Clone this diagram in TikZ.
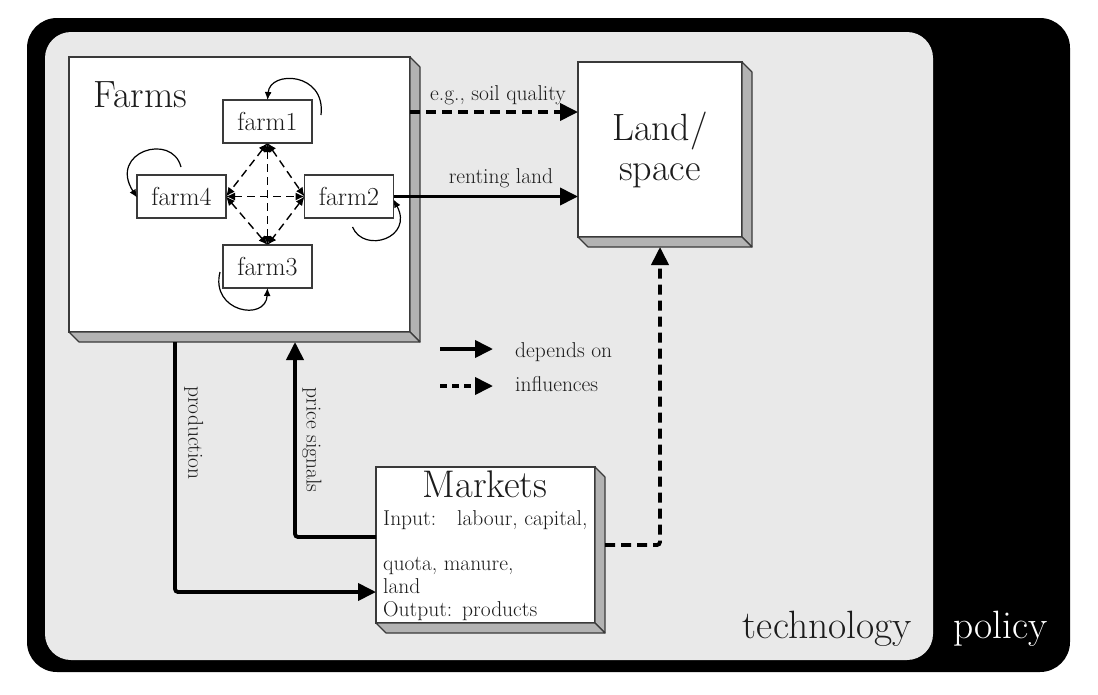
\documentclass[tikz,border=0pt]{standalone}
\usetikzlibrary{arrows.meta,calc}
\definecolor{bggray}{HTML}{E9E9E9}
\definecolor{sidegray}{HTML}{B3B3B3}
\definecolor{edgegray}{HTML}{3A3A3A}
\definecolor{txt}{HTML}{1C1C1C}
\newcommand{\extrude}[1]{%
  \filldraw[side] (#1.north east) -- ++(10,10) -- ($(#1.south east)+(10,10)$) -- (#1.south east) -- cycle;
  \filldraw[side] (#1.south west) -- ++(10,10) -- ($(#1.south east)+(10,10)$) -- (#1.south east) -- cycle;}
\begin{document}
\begin{tikzpicture}[x=1pt,y=-1pt,
  box/.style={draw=edgegray, line width=1.3pt, fill=white, anchor=north west, inner sep=0pt, outer sep=0pt},
  side/.style={draw=edgegray, line width=1.1pt, fill=sidegray, line join=round},
  farmbox/.style={draw=edgegray, line width=1.2pt, fill=white, minimum width=89pt, minimum height=43pt, inner sep=0pt, outer sep=0pt, font=\fontsize{26}{30}\selectfont, text=txt},
  dep/.style={line width=3.8pt, -{Triangle[length=18pt,width=17pt]}},
  infl/.style={line width=3.8pt, dash pattern=on 10pt off 6pt, -{Triangle[length=18pt,width=17pt]}},
  link/.style={line width=1.4pt, dash pattern=on 8pt off 5pt, {Latex[length=9pt,width=8pt]}-{Latex[length=9pt,width=8pt]}},
  selfloop/.style={line width=1.2pt, -{Latex[length=8pt,width=7pt]}},
  lbl/.style={font=\fontsize{21.5}{25}\selectfont, text=txt, inner sep=0pt},
  big/.style={font=\fontsize{38}{40}\selectfont, text=txt, inner sep=0pt},
]
\useasboundingbox (0,0) rectangle (1098,694);
\fill[white] (0,0) rectangle (1098,694);
% policy / technology backgrounds
\fill[black, rounded corners=30pt] (27,18) rectangle (1070,672);
\fill[bggray, rounded corners=26pt] (45,32) rectangle (933,660);

% boxes
\node[box, minimum width=341pt, minimum height=275pt] (farms) at (69,57) {};
\extrude{farms}
\node[box, minimum width=164pt, minimum height=175pt, big, align=center] (land) at (578,62) {Land/\\space};
\extrude{land}
\node[box, minimum width=219pt, minimum height=156pt] (markets) at (376,467) {};
\extrude{markets}

% farms content
\node[big, anchor=base west] (farmstitle) at (93,107) {Farms};
\node[farmbox] (farm1) at (267.5,121.5) {farm1};
\node[farmbox] (farm4) at (181.5,196.5) {farm4};
\node[farmbox] (farm2) at (349,196.5) {farm2};
\node[farmbox] (farm3) at (267.5,266.5) {farm3};

\draw[link] (farm1.south) -- (farm4.east);
\draw[link] (farm1.south) -- (farm2.west);
\draw[link] (farm1.south) -- (farm3.north);
\draw[link] (farm4.east) -- (farm2.west);
\draw[link] (farm4.east) -- (farm3.north);
\draw[link] (farm2.west) -- (farm3.north);

\draw[selfloop] ([shift={(9,15)}]farm1.north east) .. controls (326,72) and (270,70) .. (farm1.north);
\draw[selfloop] ([shift={(44,-8)}]farm4.north west) .. controls (172,132) and (108,152) .. ([yshift=-1pt]farm4.west);
\draw[selfloop] ([shift={(-41,9)}]farm2.south east) .. controls (364,254) and (414,238) .. ([yshift=-3pt]farm2.east);
\draw[selfloop] ([shift={(-3,-16)}]farm3.south west) .. controls (210,312) and (266,322) .. (farm3.south);

% markets text
\node[font=\fontsize{38.5}{42}\selectfont, text=txt, inner sep=0pt, anchor=base] (mtitle) at (485,497) {Markets};
\node[lbl, anchor=base west] (min1) at (383,525) {Input:\hspace{21pt}labour, capital,};
\node[lbl, anchor=base west] (min2) at (383,570) {quota, manure,};
\node[lbl, anchor=base west] (min3) at (383,593) {land};
\node[lbl, anchor=base west] (mout) at (383,616) {Output:\hspace{10pt}products};

% connectors
\draw[infl] ([yshift=82.5pt]farms.east) -- ([yshift=82.5pt]farms.east -| land.west);
\node[lbl, anchor=base] (soillbl) at (498,100) {e.g., soil quality};
\draw[dep] (farm2.east) -- (farm2.east -| land.west);
\node[lbl, anchor=base] (rentlbl) at (501,183) {renting land};

\draw[dep, rounded corners=3pt] ([shift={(106,10)}]farms.south west) |- ([yshift=-47pt]markets.west);
\node[lbl, rotate=-90, anchor=south] (prodlbl) at (184,433) {production};
\draw[dep, rounded corners=3pt] ([yshift=8pt]markets.west) -| ([shift={(226,10)}]farms.south west);
\node[lbl, rotate=-90, anchor=south] (pricelbl) at (302,440) {price signals};
\draw[infl, rounded corners=3pt] ([xshift=10pt]markets.east) -| ([yshift=-10pt]land.south);

% legend
\coordinate (lg1a) at (440,349);
\coordinate (lg1b) at (493,349);
\coordinate (lg2a) at (440,386);
\coordinate (lg2b) at (493,386);
\draw[dep] (lg1a) -- (lg1b);
\draw[line width=3.8pt, dash pattern=on 7pt off 5pt, -{Triangle[length=18pt,width=17pt]}] (lg2a) -- (lg2b);
\node[lbl, anchor=base west] (lgdep) at (515,357) {depends on};
\node[lbl, anchor=base west] (lginf) at (515,391) {influences};

% layer labels
\node[font=\fontsize{39.5}{44}\selectfont, text=txt, inner sep=0pt, anchor=base east] (tech) at (912,638) {technology};
\node[font=\fontsize{39.5}{44}\selectfont, text=white, inner sep=0pt, anchor=base west] (policy) at (953,638) {policy};
\end{tikzpicture}
\end{document}
